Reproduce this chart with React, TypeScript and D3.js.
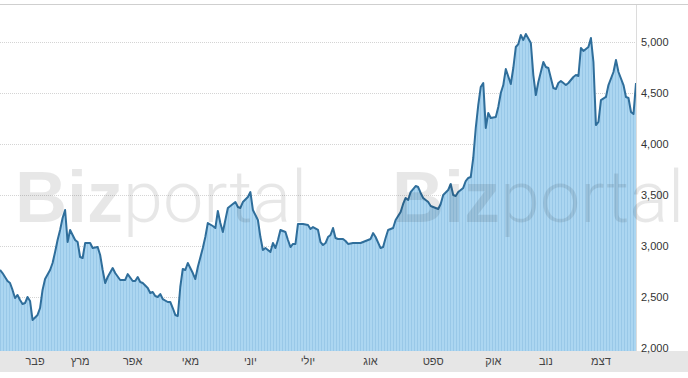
import React from "react";
import * as d3 from "d3";

// trading-day index and closing value
const days = [0,1,3,4,5,6,7,8,9,10,11,12,13,15,16,17,18,20,21,22,23,24,25,26,27,28,30,31,32,33,34,36,37,39,40,41,42,43,45,46,48,50,51,53,54,55,56,57,59,60,61,62,63,64,65,67,68,69,70,71,72,73,74,75,77,78,79,81,82,83,85,86,87,88,89,91,93,94,95,96,97,99,100,101,102,103,104,105,106,108,109,110,111,112,114,115,116,117,118,119,121,123,124,125,127,128,129,130,131,132,133,134,135,137,138,139,141,142,144,146,148,149,150,152,153,154,155,157,158,160,161,162,163,164,166,167,168,169,171,172,174,175,176,177,179,180,181,182,183,185,186,187,188,189,190,191,192,193,194,195,196,198,199,200,201,202,204,205,206,207,208,209,210,212,213,214,215,217,218,219,221,222,223,224,226,227,229,230,231,232,233,235,236,237,238,239,240,242,243,245,246,247,249,250,251,252,253,254];
const closes = [2765,2735,2657,2637,2569,2490,2520,2471,2431,2441,2500,2461,2275,2324,2392,2569,2676,2765,2833,2941,3059,3157,3275,3353,3039,3157,3059,3039,2892,2882,3029,3029,2980,2990,2912,2765,2637,2696,2784,2735,2667,2667,2725,2657,2657,2696,2647,2637,2588,2539,2549,2510,2500,2529,2480,2451,2451,2392,2324,2314,2598,2775,2765,2833,2735,2676,2794,2980,3088,3225,3196,3176,3343,3225,3137,3373,3412,3431,3382,3373,3431,3480,3529,3353,3304,3255,3088,2961,2980,2941,3029,2980,3059,3157,3137,3059,2990,3020,3020,3216,3216,3206,3167,3186,3157,3039,3010,3029,3088,3108,3176,3078,3069,3069,3049,3020,3029,3029,3029,3049,3069,3127,3088,2980,2990,3078,3157,3176,3255,3333,3412,3471,3451,3529,3588,3578,3520,3471,3431,3392,3373,3363,3412,3500,3549,3608,3500,3490,3529,3569,3637,3667,3676,3863,4157,4382,4559,4598,4157,4304,4255,4265,4363,4500,4578,4735,4588,4745,4951,4980,5069,5020,5078,4990,4676,4480,4608,4804,4755,4745,4549,4539,4598,4618,4578,4598,4657,4676,4667,4941,4912,4951,5039,4804,4186,4216,4431,4461,4578,4706,4824,4706,4578,4461,4451,4314,4294,4598];

const monthLabels = ["פבר","מרץ","אפר","מאי","יוני","יולי","אוג","ספט","אוק","נוב","דצמ"];
const monthDays = [14,32,53,76,100,123,148,173,197,218,240];
const yTicks = [2000,2500,3000,3500,4000,4500,5000];

const W = 688, H = 378;
const plotRight = 636;
const plotBottom = 351;

export default function App() {
  const x = d3.scaleLinear().domain([0, 254]).range([0, plotRight]);
  const y = d3.scaleLinear().domain([2000, 5000]).range([348, 42]);
  const data = days.map((d, i) => ({ d, v: closes[i] }));
  const area = d3.area<any>().x(p => x(p.d)).y0(plotBottom).y1(p => y(p.v));
  const line = d3.line<any>().x(p => x(p.d)).y(p => y(p.v));
  const fmt = d3.format(",");
  const font = "'Liberation Sans', Arial, sans-serif";

  const watermark = (x0: number, key: string) => (
    <text key={key} x={x0} y={222} fontFamily={font} fontSize={72} fill="#000" fillOpacity={0.095}>
      <tspan fontWeight="bold">Biz</tspan>
      <tspan fontFamily="Roboto, 'Liberation Sans', sans-serif" fontWeight={300}>portal</tspan>
    </text>
  );

  return (
    <svg width={W} height={H} style={{ position: "absolute", left: 0, top: 0, background: "#fff" }}>
      <defs>
        <pattern id="stripes" width={3} height={10} patternUnits="userSpaceOnUse">
          <rect width={3} height={10} fill="#acd6f1" />
          <rect width={0.8} height={10} fill="#94c5e6" />
        </pattern>
        <clipPath id="plotclip">
          <rect x={0} y={0} width={plotRight} height={plotBottom} />
        </clipPath>
      </defs>
      <line x1={0} x2={W} y1={4.5} y2={4.5} stroke="#cfcfcf" />
      {yTicks.slice(1).map(t => (
        <line key={t} x1={0} x2={plotRight} y1={Math.round(y(t)) + 0.5} y2={Math.round(y(t)) + 0.5}
          stroke="#d4d4d4" strokeDasharray="1,1" />
      ))}
      <g clipPath="url(#plotclip)">
        <path d={area(data) || ""} fill="url(#stripes)" />
        <path d={line(data) || ""} fill="none" stroke="#2f6e9b" strokeWidth={2} strokeLinejoin="round" />
      </g>
      <rect x={0} y={plotBottom} width={W} height={21} fill="#e6e6e6" />
      <line x1={plotRight + 0.5} x2={plotRight + 0.5} y1={5} y2={plotBottom} stroke="#dcdcdc" />
      {yTicks.map(t => (
        <text key={t} x={641} y={y(t)} dy="0.35em" fontFamily={font} fontSize={11} fill="#333">
          {fmt(t)}
        </text>
      ))}
      {monthLabels.map((m, i) => (
        <text key={m} x={x(monthDays[i])} y={365} textAnchor="middle" fontFamily={font} fontSize={11} fill="#444">
          {m}
        </text>
      ))}
      {watermark(15, "w1")}
      {watermark(392, "w2")}
    </svg>
  );
}
